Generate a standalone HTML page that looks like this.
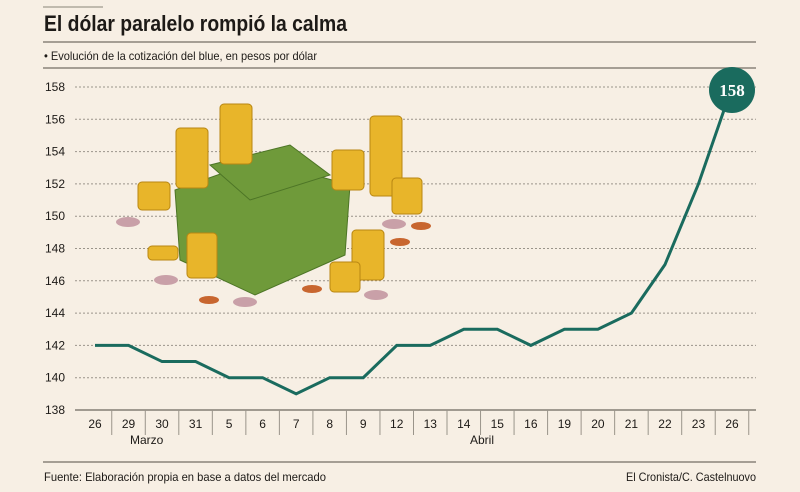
<!DOCTYPE html>
<html><head><meta charset="utf-8"><style>
body{margin:0;background:#f7efe4;}
svg{display:block;font-family:"Liberation Sans",sans-serif;}
</style></head><body>
<svg width="800" height="492" viewBox="0 0 800 492">
<rect width="800" height="492" fill="#f7efe4"/>
<line x1="43" y1="7" x2="103" y2="7" stroke="#8a8479" stroke-width="1"/>
<text x="44" y="31" font-size="22" font-weight="bold" fill="#1d1a17" textLength="303" lengthAdjust="spacingAndGlyphs">El dólar paralelo rompió la calma</text>
<line x1="43" y1="42" x2="756" y2="42" stroke="#8a8479" stroke-width="1.5"/>
<text x="44" y="60" font-size="12" fill="#1d1a17" textLength="273" lengthAdjust="spacingAndGlyphs">• Evolución de la cotización del blue, en pesos por dólar</text>
<line x1="43" y1="68" x2="756" y2="68" stroke="#8a8479" stroke-width="1.5"/>
<g id="grid"></g>
<g id="coins">
<g fill="#6f9a3a" stroke="#4d7526" stroke-width="1">
<polygon points="175,190 260,160 350,185 345,255 255,295 180,260"/>
<polygon points="210,165 290,145 330,175 250,200"/>
</g>
<g fill="#e8b52a" stroke="#b88612">
<rect x="176" y="128" width="32" height="60" rx="4"/>
<rect x="220" y="104" width="32" height="60" rx="4"/>
<rect x="370" y="116" width="32" height="80" rx="4"/>
<rect x="138" y="182" width="32" height="28" rx="4"/>
<rect x="332" y="150" width="32" height="40" rx="4"/>
<rect x="352" y="230" width="32" height="50" rx="4"/>
<rect x="330" y="262" width="30" height="30" rx="4"/>
<rect x="187" y="233" width="30" height="45" rx="4"/>
<rect x="392" y="178" width="30" height="36" rx="4"/>
<rect x="148" y="246" width="30" height="14" rx="4"/>
</g>
<g fill="#c9a0a8"><ellipse cx="128" cy="222" rx="12" ry="5"/><ellipse cx="166" cy="280" rx="12" ry="5"/><ellipse cx="245" cy="302" rx="12" ry="5"/><ellipse cx="376" cy="295" rx="12" ry="5"/><ellipse cx="394" cy="224" rx="12" ry="5"/></g>
<g fill="#c8662f"><ellipse cx="209" cy="300" rx="10" ry="4"/><ellipse cx="400" cy="242" rx="10" ry="4"/><ellipse cx="421" cy="226" rx="10" ry="4"/><ellipse cx="312" cy="289" rx="10" ry="4"/></g>
</g>
<g id="xaxis"></g>
<path id="line" fill="none" stroke="#1a6b5e" stroke-width="3"/>
<g id="badge"></g>
<text x="130" y="444" font-size="12" fill="#1d1a17">Marzo</text>
<text x="470" y="444" font-size="12" fill="#1d1a17">Abril</text>
<line x1="43" y1="462" x2="756" y2="462" stroke="#8a8479" stroke-width="1.5"/>
<text x="44" y="481" font-size="12" fill="#1d1a17" textLength="282" lengthAdjust="spacingAndGlyphs">Fuente:  Elaboración propia en base a datos del mercado</text>
<text x="626" y="481" font-size="12" fill="#1d1a17" textLength="130" lengthAdjust="spacingAndGlyphs">El Cronista/C. Castelnuovo</text>
</svg>
<script>
const categories=["26","29","30","31","5","6","7","8","9","12","13","14","15","16","19","20","21","22","23","26"];
const values=[142,142,141,141,140,140,139,140,140,142,142,143,143,142,143,143,144,147,152,158];
const yTicks=[138,140,142,144,146,148,150,152,154,156,158];
const NS="http://www.w3.org/2000/svg";
const x=i=>95+i*(732-95)/(categories.length-1);
const y=v=>410-(v-138)*(410-87)/20;
function mk(t,a,p){const e=document.createElementNS(NS,t);for(const k in a)e.setAttribute(k,a[k]);p.appendChild(e);return e;}
const grid=document.getElementById('grid');
yTicks.forEach(t=>{
 const l=mk('line',{x1:75,x2:756,y1:y(t),y2:y(t),stroke:t===138?'#6d675e':'#9a948a','stroke-width':t===138?1.2:1,'stroke-dasharray':t===138?'':'2,2'},grid);
 
 
 const tx=mk('text',{x:45,y:y(t)+4,'font-size':12,fill:'#1d1a17'},grid);tx.textContent=t;
 
 
});
const xa=document.getElementById('xaxis');
categories.forEach((c,i)=>{
 const l=mk('line',{x1:x(i)+16.75,x2:x(i)+16.75,y1:410,y2:435,stroke:'#9a948a','stroke-width':1},xa);
 
 
 const t=mk('text',{x:x(i),y:428,'font-size':12,fill:'#1d1a17','text-anchor':'middle'},xa);t.textContent=c;
 
 
});
document.getElementById('line').setAttribute('d',values.map((v,i)=>(i?'L':'M')+x(i)+','+y(v)).join(''));
const b=document.getElementById('badge');const n=values.length-1;
const c=mk('circle',{cx:x(n),cy:y(values[n])+3,r:23,fill:'#1a6b5e'},b);


const bt=mk('text',{x:x(n),y:y(values[n])+9,'font-size':17,'font-weight':'bold','font-family':'Liberation Serif, serif',fill:'#fff','text-anchor':'middle'},b);bt.textContent=values[n];


</script>
</body></html>
